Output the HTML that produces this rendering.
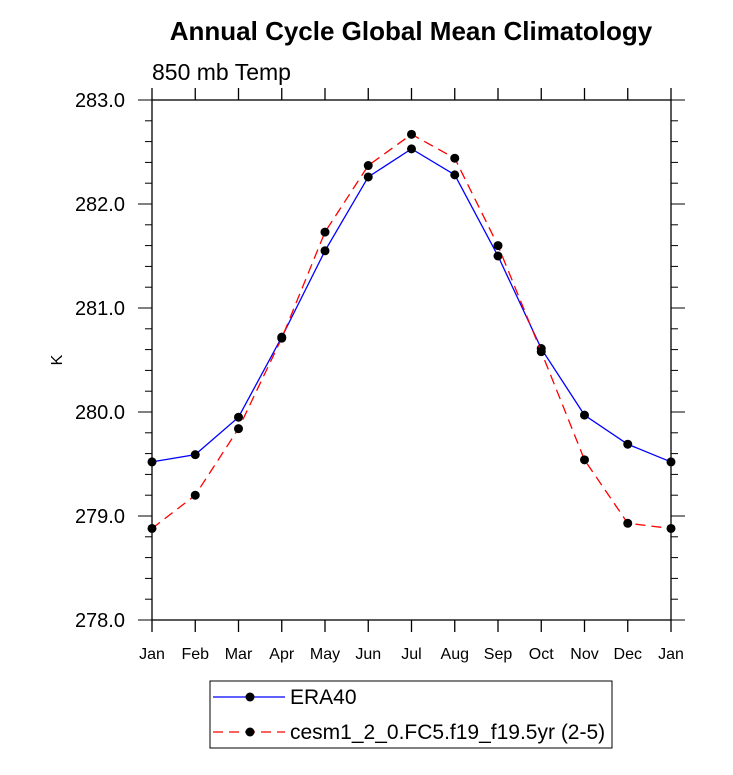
<!DOCTYPE html>
<html><head><meta charset="utf-8"><style>
body{margin:0;background:#fff;font-family:"Liberation Sans",sans-serif}
</style></head><body>
<svg width="733" height="770" xmlns="http://www.w3.org/2000/svg" font-family="Liberation Sans, sans-serif">
<text x="411" y="40" text-anchor="middle" font-size="26" font-weight="bold">Annual Cycle Global Mean Climatology</text>
<text x="152" y="80" font-size="23">850 mb Temp</text>
<text x="62" y="360" font-size="16" text-anchor="middle" transform="rotate(-90 62 360)">K</text>
<g id="axes"></g>
<g id="series"></g>
<g>
<rect x="210" y="681" width="402" height="67" fill="none" stroke="#000" stroke-width="1"/>
<g>
<line x1="213" y1="697" x2="285" y2="697" stroke="#00f" stroke-width="1.3"/>
<circle cx="250" cy="697" r="4.5"/>
<text x="290" y="704" font-size="21">ERA40</text></g>
<g>
<line x1="213" y1="732" x2="285" y2="732" stroke="#f00" stroke-width="1.3" stroke-dasharray="10,6"/>
<circle cx="250" cy="732" r="4.5"/>
<text x="290" y="739" font-size="21">cesm1_2_0.FC5.f19_f19.5yr (2-5)</text></g>
</g>
</svg>
<script>
const months=["Jan","Feb","Mar","Apr","May","Jun","Jul","Aug","Sep","Oct","Nov","Dec","Jan"];
const era40=[279.52,279.59,279.95,280.72,281.55,282.26,282.53,282.28,281.50,280.61,279.97,279.69,279.52];
const cesm=[278.88,279.20,279.84,280.71,281.73,282.37,282.67,282.44,281.60,280.58,279.54,278.93,278.88];
const yTicks=["278.0","279.0","280.0","281.0","282.0","283.0"];
const NS="http://www.w3.org/2000/svg";
const L=152,R=671,T=100,B=620,yMin=278,yMax=283;
const xs=i=>L+(R-L)*i/(months.length-1);
const ys=v=>B-(v-yMin)/(yMax-yMin)*(B-T);
function mk(tag,at,parent){const e=document.createElementNS(NS,tag);for(const k in at)e.setAttribute(k,at[k]);parent.appendChild(e);return e;}
const ax=document.getElementById('axes');
const fr=mk('rect',{x:L,y:T,width:R-L,height:B-T,fill:'none',stroke:'#000','stroke-width':1.3},ax);


months.forEach((m,i)=>{const x=xs(i);
mk('line',{x1:x,y1:B,x2:x,y2:B+12,stroke:'#000','stroke-width':1.3},ax);
mk('line',{x1:x,y1:T,x2:x,y2:T-12,stroke:'#000','stroke-width':1.3},ax);
const t=mk('text',{x:x,y:B+39,'text-anchor':'middle','font-size':16},ax);t.textContent=m;

});
for(let v=yMin;v<=yMax+1e-9;v+=0.2){const y=ys(v);const major=Math.abs(v-Math.round(v))<1e-6;const len=major?14:7;
mk('line',{x1:L-len,y1:y,x2:L,y2:y,stroke:'#000','stroke-width':1},ax);
mk('line',{x1:R,y1:y,x2:R+len,y2:y,stroke:'#000','stroke-width':1},ax);}
yTicks.forEach(s=>{const v=parseFloat(s);const t=mk('text',{x:L-27,y:ys(v)+7,'text-anchor':'end','font-size':20},ax);t.textContent=s;

});
const sg=document.getElementById('series');
function draw(vals,color,dash,name){
const p=mk('polyline',{points:vals.map((v,i)=>xs(i)+','+ys(v)).join(' '),fill:'none',stroke:color,'stroke-width':1.3,'stroke-dasharray':dash},sg);


vals.forEach((v,i)=>{const c=mk('circle',{cx:xs(i),cy:ys(v),r:4.5,fill:'#000'},sg);

});}
draw(era40,'#00f','none','era40');
draw(cesm,'#f00','10,6','cesm');
</script>
</body></html>
